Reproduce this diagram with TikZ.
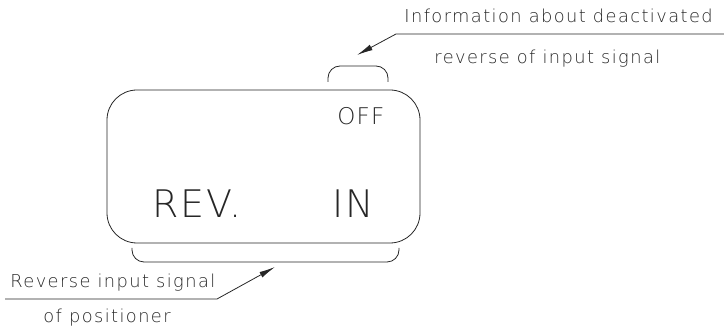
\documentclass[tikz,border=0pt]{standalone}
\usepackage{fontspec}
\newfontfamily\cadfont[LetterSpace=8]{DejaVu Sans ExtraLight}
\newfontfamily\dispfont[LetterSpace=5]{DejaVu Sans ExtraLight}
\usetikzlibrary{arrows.meta}
\begin{document}
\begin{tikzpicture}[x=1pt,y=-1pt,line width=0.8pt,
  lbl/.style={anchor=base west,inner sep=0pt,text=black!85,font=\cadfont\fontsize{17.8}{20}\selectfont},
  disp/.style={anchor=base west,inner sep=0pt,text=black!85,font=\dispfont\fontsize{38}{40}\selectfont},
  dispsmall/.style={anchor=base west,inner sep=0pt,text=black!85,font=\dispfont\fontsize{23}{25}\selectfont},
  lead/.style={draw=black!85,-{Latex[length=16pt,width=6pt]}},
  brk/.style={draw=black!85,rounded corners=12pt}]
\useasboundingbox (0,0) rectangle (724,328);
% display
\node[draw=black!85,rounded corners=30pt,minimum width=313pt,minimum height=153pt,inner sep=0pt] (box) at (263.5,166.5) {};
\node[dispsmall] (off) at (337,125) {OFF};
\node[disp] (rev) at (152,218) {REV.};
\node[disp] (in) at (332,218) {IN};
% brackets
\draw[brk] (328,82) -- (328,66) -- (388,66) -- (388,82);
\draw[brk] (132,248) -- (132,262) -- (399,262) -- (399,248);
% top label
\node[lbl] (info1) at (404,23) {Information about deactivated};
\node[lbl] (info2) at (434,64) {reverse of input signal};
\coordinate (t1) at (724,34);
\coordinate (t2) at (396,34);
\coordinate (tip1) at (357,55);
\draw[lead] (t1) -- (t2) -- (tip1);
% bottom label
\node[lbl] (rev1) at (10,288) {Reverse input signal};
\node[lbl] (rev2) at (43,323) {of positioner};
\coordinate (b1) at (5,299);
\coordinate (b2) at (217,299);
\coordinate (tip2) at (275,267);
\draw[lead] (b1) -- (b2) -- (tip2);
\end{tikzpicture}
\end{document}
